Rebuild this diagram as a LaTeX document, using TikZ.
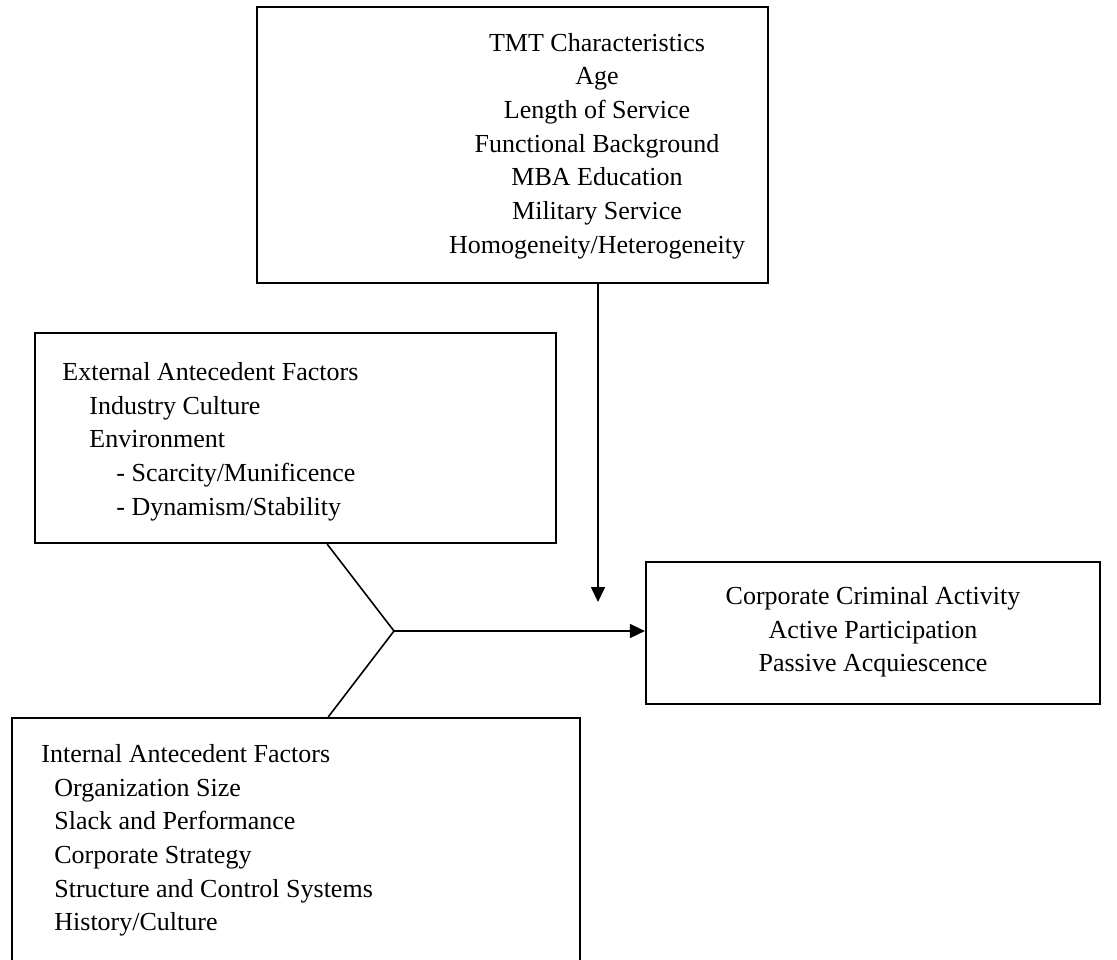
\documentclass[tikz,border=0pt]{standalone}
\usepackage{fontspec}
\setmainfont{Liberation Serif}
\usetikzlibrary{arrows.meta,positioning,calc}

\begin{document}
\begin{tikzpicture}[
    x=0.5pt, y=-0.5pt,
    box/.style={draw, line width=1.1pt, inner sep=0pt},
    txt/.style={inner sep=0pt, font=\fontsize{13pt}{16.85pt}\selectfont},
    conn/.style={line width=0.8pt},
    arr/.style={line width=0.8pt, -{Triangle[length=7.5pt, width=7pt]}},
]
    \clip (0,0) rectangle (1117,959);

    % TMT box
    \node[box, minimum width=255.5pt, minimum height=138pt] (tmt) at (512.5,145) {};
    \node[txt, align=center, anchor=north] (tmttext) at (597,27.1) {\strut TMT Characteristics\\Age\\Length of Service\\Functional Background\\MBA Education\\Military Service\\Homogeneity/Heterogeneity};

    % external factors
    \node[box, minimum width=260.5pt, minimum height=105pt] (ext) at (295.5,438) {};
    \node[txt, align=left, anchor=north west] (exttext) at (62,356.4) {\strut External Antecedent Factors\\
        \hspace*{13.5pt}Industry Culture\\
        \hspace*{13.5pt}Environment\\
        \hspace*{27pt}- Scarcity/Munificence\\
        \hspace*{27pt}- Dynamism/Stability};

    % internal factors
    \node[box, minimum width=284pt, minimum height=126pt] (int) at (296,844) {};
    \node[txt, align=left, anchor=north west] (inttext) at (41,738.4) {\strut Internal Antecedent Factors\\
        \hspace*{6.5pt}Organization Size\\
        \hspace*{6.5pt}Slack and Performance\\
        \hspace*{6.5pt}Corporate Strategy\\
        \hspace*{6.5pt}Structure and Control Systems\\
        \hspace*{6.5pt}History/Culture};

    % outcome
    \node[box, minimum width=227pt, minimum height=71pt] (crime) at (873,633) {};
    \node[txt, align=center, anchor=north] (crimetext) at (873,580.4) {\strut Corporate Criminal Activity\\Active Participation\\Passive Acquiescence};

    % connectors
    \coordinate (join) at (394,631);
    \coordinate (tmtend) at (598,602);
    \draw[arr] (tmt.south -| tmtend) -- (tmtend);
    \draw[conn] ($(ext.south west)!0.5605!(ext.south east)$) -- (join);
    \draw[conn] (join) -- ($(int.north west)!0.5566!(int.north east)$);
    \draw[arr] (join) -- (crime.west |- join);
\end{tikzpicture}
\end{document}
